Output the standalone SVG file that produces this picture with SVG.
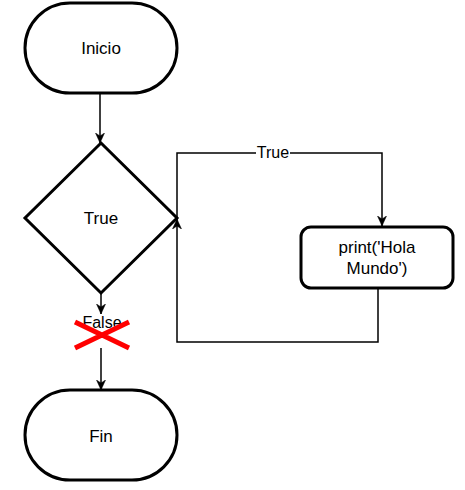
<svg xmlns="http://www.w3.org/2000/svg" width="465" height="490" viewBox="0 0 465 490">
<defs>
<style>
.node{fill:#fff;stroke:#000;stroke-width:3}
.edge{fill:none;stroke:#000;stroke-width:1.5}
.t{font-family:"Liberation Sans",Arial,sans-serif;font-size:17px;fill:#000;text-anchor:middle}
.el{font-family:"Liberation Sans",Arial,sans-serif;font-size:16px;fill:#000;text-anchor:middle}
</style>
<marker id="arr" viewBox="0 0 10 10" refX="10" refY="5" markerWidth="10" markerHeight="10" markerUnits="userSpaceOnUse" orient="auto">
<path d="M0,0.5 L10,5 L0,9.5 L3,5 z" fill="#000" stroke="#000" stroke-width="0.5"/>
</marker>
</defs>
<rect width="465" height="490" fill="#fff"/>
<g id="connectors">
<path class="edge" d="M100,93 L100,143" marker-end="url(#arr)"/>
<path class="edge" d="M177,218 L177,153 L382,153 L382,226" marker-end="url(#arr)"/>
<path class="edge" d="M378,289 L378,342 L177,342 L177,219" marker-end="url(#arr)"/>
<path class="edge" d="M101,293 L101,314" marker-end="url(#arr)"/>
<path class="edge" d="M101,348 L101,390" marker-end="url(#arr)"/>
<rect x="256" y="145" width="34" height="15" fill="#fff"/>
<text class="el" x="273" y="158">True</text>
<rect x="81" y="315" width="42" height="15" fill="#fff"/>
<text class="el" x="102" y="328">False</text>
</g>
<g id="inicio">
<rect class="node" x="25" y="3" width="152" height="90" rx="45" ry="45"/>
<text class="t" x="101" y="54">Inicio</text>
</g>
<g id="decision">
<polygon class="node" points="101,143 177,218 101,293 25,218"/>
<text class="t" x="101" y="224">True</text>
</g>
<g id="print">
<rect class="node" x="301" y="227" width="152" height="61" rx="10" ry="10"/>
<text class="t" x="377" y="253">print('Hola</text>
<text class="t" x="377" y="274">Mundo')</text>
</g>
<g id="cross">
<path d="M75,322 L129,348 M75,348 L129,322" stroke="#f00" stroke-width="5" fill="none"/>
</g>
<g id="fin">
<rect class="node" x="25" y="390" width="152" height="90" rx="45" ry="45"/>
<text class="t" x="101" y="442">Fin</text>
</g>
</svg>
